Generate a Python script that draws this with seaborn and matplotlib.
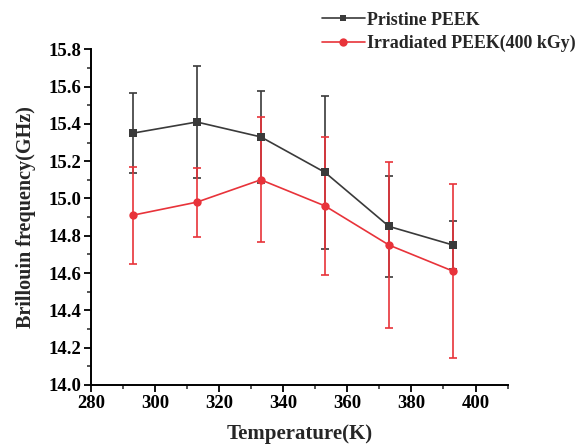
import matplotlib
matplotlib.use("Agg")
import matplotlib.pyplot as plt
from matplotlib.ticker import MultipleLocator
from matplotlib.lines import Line2D
import seaborn as sns
import pandas as pd

temperature = [293, 313, 333, 353, 373, 393]
pristine = [15.35, 15.41, 15.33, 15.14, 14.85, 14.75]
pristine_err = [0.215, 0.30, 0.245, 0.41, 0.27, 0.13]
irradiated = [14.91, 14.98, 15.10, 14.96, 14.75, 14.61]
irradiated_err = [0.26, 0.185, 0.335, 0.37, 0.445, 0.465]
series_names = ["Pristine PEEK", "Irradiated PEEK(400 kGy)"]

sns.set_theme(style="ticks")
plt.rcParams["font.family"] = ["Liberation Serif", "DejaVu Serif"]
plt.rcParams["font.weight"] = "bold"

gray = "#3a3a3a"
red = "#e8333a"

df = pd.DataFrame({
    "T": temperature * 2,
    "f": pristine + irradiated,
    "s": [series_names[0]] * 6 + [series_names[1]] * 6,
})

fig = plt.figure(figsize=(5.85, 4.46), dpi=100)
ax = fig.add_axes([0.1556, 0.137, 0.712, 0.7525])

ax.errorbar(temperature, pristine, yerr=pristine_err, fmt="none",
            ecolor=gray, elinewidth=1.2, capsize=2.6, capthick=1.2, zorder=2)
ax.errorbar(temperature, irradiated, yerr=irradiated_err, fmt="none",
            ecolor=red, elinewidth=1.2, capsize=2.6, capthick=1.2, zorder=2)

sns.lineplot(data=df, x="T", y="f", hue="s", style="s",
             palette=[gray, red], markers=["s", "o"], dashes=False,
             markersize=6, markeredgewidth=0, linewidth=1.2, ax=ax,
             legend=False, zorder=3)

ax.set_xticks(range(280, 401, 20))
ax.xaxis.set_minor_locator(MultipleLocator(10))
ax.yaxis.set_major_locator(MultipleLocator(0.2))
ax.yaxis.set_minor_locator(MultipleLocator(0.1))
ax.set_xlim(280, 410)
ax.set_ylim(14.0, 15.8)
ax.tick_params(axis="both", which="major", direction="out", length=5, width=1.3,
               labelsize=13.5, colors="black", pad=2)
ax.tick_params(axis="both", which="minor", direction="out", length=3, width=1.1)
for lab in ax.get_xticklabels() + ax.get_yticklabels():
    lab.set_fontweight("bold")

sns.despine(ax=ax)
for sp in ("left", "bottom"):
    ax.spines[sp].set_linewidth(1.4)
    ax.spines[sp].set_color("black")

ax.set_xlabel("Temperature(K)", fontsize=15, fontweight="bold", labelpad=9)
ax.set_ylabel("Brillouin frequency(GHz)", fontsize=14.5, fontweight="bold", labelpad=9)

handles = [
    Line2D([], [], color=gray, marker="s", markersize=5, markeredgewidth=0, linewidth=1.2),
    Line2D([], [], color=red, marker="o", markersize=6, markeredgewidth=0, linewidth=1.2),
]
fig.legend(handles, series_names, loc="upper left",
           bbox_to_anchor=(0.538, 0.99), frameon=False,
           prop={"size": 12.9, "weight": "bold"}, handlelength=2.4,
           handletextpad=0.1, labelspacing=0.36, borderaxespad=0)

fig.savefig("out.png", dpi=100)
